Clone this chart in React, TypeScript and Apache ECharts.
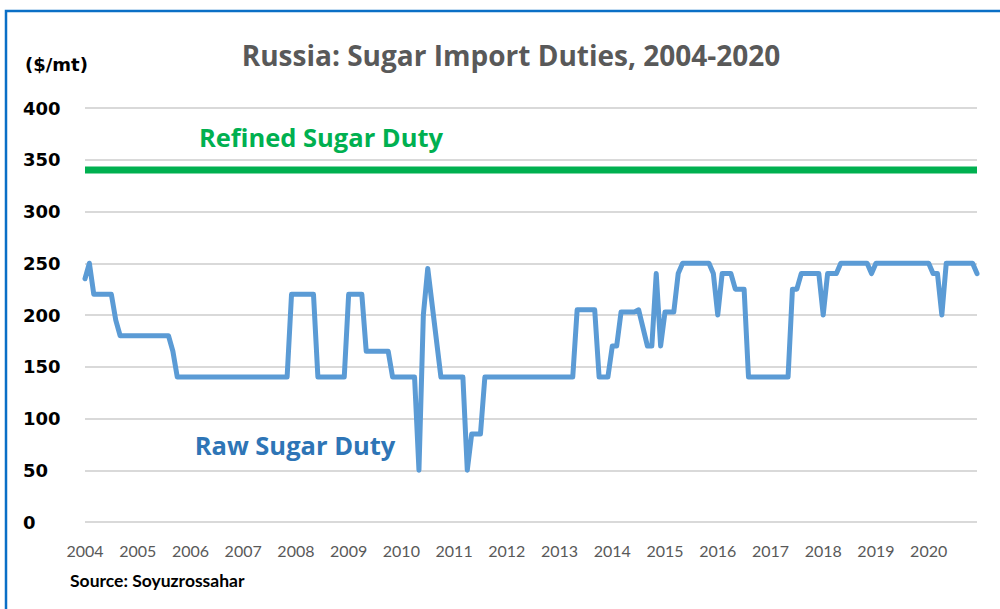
import React, { useEffect, useRef } from "react";
import * as echarts from "echarts";

const startYear = 2004;
const yearLabels = ["2004","2005","2006","2007","2008","2009","2010","2011","2012","2013","2014","2015","2016","2017","2018","2019","2020"];
const yTicks = [0, 50, 100, 150, 200, 250, 300, 350, 400];

// Raw sugar duty, breakpoints (month, $/mt)
const rawDates = [
  "2004-01","2004-02","2004-03","2004-07","2004-08","2004-09","2005-08","2005-09","2005-10",
  "2007-11","2007-12","2008-05","2008-06","2008-12","2009-01","2009-04","2009-05","2009-10","2009-11",
  "2010-04","2010-05","2010-06","2010-07","2010-10","2011-03","2011-04","2011-05","2011-07","2011-08",
  "2013-04","2013-05","2013-09","2013-10","2013-12","2014-01","2014-02","2014-03","2014-06","2014-07",
  "2014-09","2014-10","2014-11","2014-12","2015-01","2015-03","2015-04","2015-05","2015-11","2015-12",
  "2016-01","2016-02","2016-04","2016-05","2016-07","2016-08","2017-05","2017-06","2017-07","2017-08",
  "2017-12","2018-01","2018-02","2018-04","2018-05","2018-11","2018-12","2019-01","2020-01","2020-02",
  "2020-03","2020-04","2020-05","2020-11","2020-12"
];
const rawValues = [
  235,250,220,220,195,180,180,165,140,
  140,220,220,140,140,220,220,165,165,140,
  140,50,200,245,140,140,50,85,85,140,
  140,205,205,140,140,170,170,203,203,205,
  170,170,240,170,203,203,240,250,250,240,
  200,240,240,225,225,140,140,225,225,240,
  240,200,240,240,250,250,240,250,250,240,
  240,200,250,250,240
];

const refinedDates = ["2004-01", "2020-12"];
const refinedValues = [340, 340];

const monthIndex = (d: string) => {
  const [y, m] = d.split("-").map(Number);
  return (y - startYear) * 12 + (m - 1);
};

export default function App() {
  const ref = useRef<HTMLDivElement>(null);
  useEffect(() => {
    const chart = echarts.init(ref.current!, null, { renderer: "svg" });
    const lato = "Lato, 'Open Sans', sans-serif";
    const open = "'Open Sans', 'Noto Sans', sans-serif";
    const wide = "'DejaVu Sans', Verdana, sans-serif";
    chart.setOption({
      animation: false,
      backgroundColor: "#ffffff",
      grid: { left: 85, right: 23, top: 108, bottom: 87, containLabel: false },
      xAxis: {
        type: "value",
        min: 0,
        max: monthIndex(refinedDates[1]),
        interval: 12,
        axisLine: { show: false },
        axisTick: { show: false },
        splitLine: { show: false },
        axisLabel: {
          margin: 20,
          color: "#595959",
          fontFamily: lato,
          fontSize: 16,
          showMaxLabel: false,
          formatter: (v: number) => (v % 12 === 0 ? yearLabels[v / 12] ?? "" : ""),
        },
      },
      yAxis: {
        type: "value",
        min: yTicks[0],
        max: yTicks[yTicks.length - 1],
        interval: 50,
        axisLine: { show: false },
        axisTick: { show: false },
        splitLine: { lineStyle: { color: "#d9d9d9", width: 2 } },
        axisLabel: {
          align: "left",
          margin: 62,
          color: "#000000",
          fontWeight: "bold",
          fontFamily: wide,
          fontSize: 18,
        },
      },
      series: [
        {
          type: "line",
          data: refinedDates.map((d, i) => [monthIndex(d), refinedValues[i]]),
          symbol: "none",
          lineStyle: { color: "#00b050", width: 7 },
          z: 3,
        },
        {
          type: "line",
          data: rawDates.map((d, i) => [monthIndex(d), rawValues[i]]),
          symbol: "none",
          lineStyle: { color: "#5b9bd5", width: 5, join: "round", cap: "round" },
          z: 4,
        },
      ],
      graphic: [
        {
          type: "rect",
          shape: { x: 6, y: 11, width: 1010, height: 620 },
          style: { fill: "none", stroke: "#0a6fc6", lineWidth: 2.5 },
          z: 10,
        },
        {
          type: "text",
          x: 511, y: 55,
          style: { text: "Russia: Sugar Import Duties, 2004-2020", fill: "#595959", font: `bold 28px ${open}`, textAlign: "center", textVerticalAlign: "middle" },
        },
        {
          type: "text",
          x: 25, y: 64,
          style: { text: "($/mt)", fill: "#000000", font: `bold 18px ${wide}`, textAlign: "left", textVerticalAlign: "middle" },
        },
        {
          type: "text",
          x: 321, y: 137,
          style: { text: "Refined Sugar Duty", fill: "#00b050", font: `bold 25.5px ${open}`, textAlign: "center", textVerticalAlign: "middle" },
        },
        {
          type: "text",
          x: 295, y: 445,
          style: { text: "Raw Sugar Duty", fill: "#2e75b6", font: `bold 25.5px ${open}`, textAlign: "center", textVerticalAlign: "middle" },
        },
        {
          type: "text",
          x: 70, y: 580,
          style: { text: "Source: Soyuzrossahar", fill: "#000000", font: `bold 17.5px ${lato}`, textAlign: "left", textVerticalAlign: "middle" },
        },
      ],
    });
    return () => chart.dispose();
  }, []);
  return (
    <div
      ref={ref}
      style={{ position: "fixed", left: 0, top: 0, width: 1000, height: 609, background: "#fff" }}
    />
  );
}
